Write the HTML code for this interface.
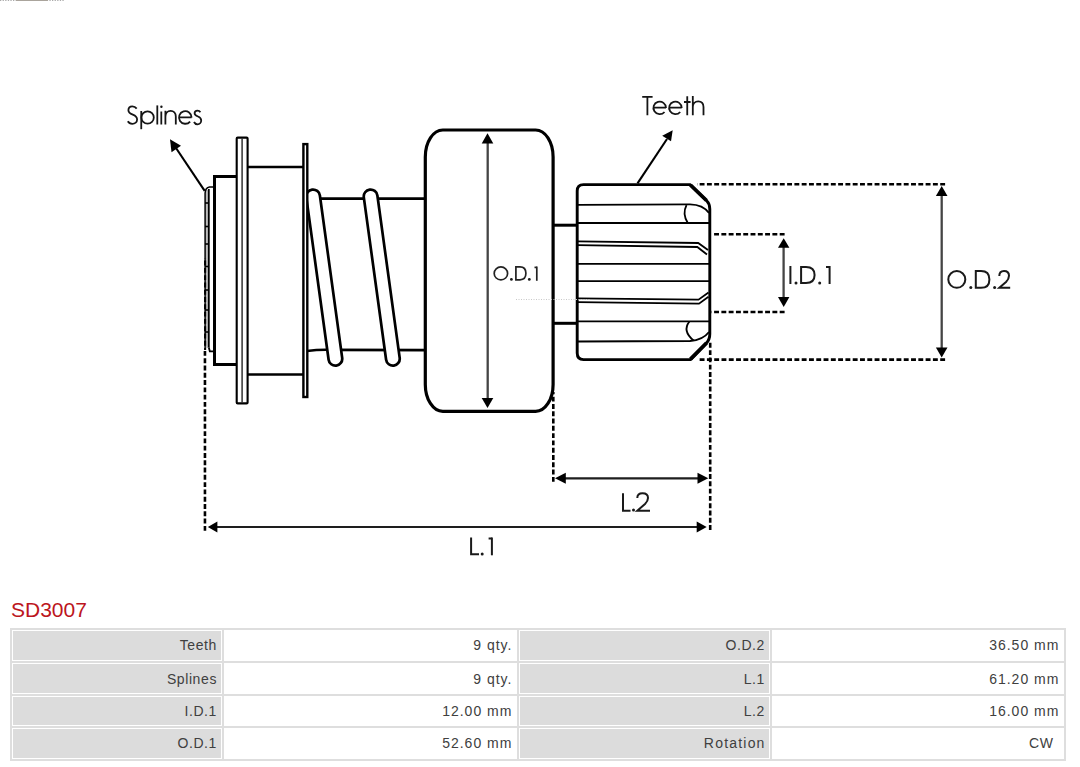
<!DOCTYPE html>
<html>
<head>
<meta charset="utf-8">
<style>
html,body{margin:0;padding:0;background:#fff;}
body{width:1080px;height:767px;overflow:hidden;position:relative;font-family:"Liberation Sans",sans-serif;}
#drw{position:absolute;left:0;top:0;}
#title{position:absolute;left:11px;top:598px;font-size:21px;line-height:24px;color:#bc1520;white-space:nowrap;}
#tbl{position:absolute;left:10px;top:628px;width:1056px;height:133px;background:#dedede;}
.c{position:absolute;box-sizing:border-box;border:1px solid #fff;font-size:14px;letter-spacing:0.6px;color:#404040;text-align:right;white-space:nowrap;}
.h{background:#dcdcdc;}
.v{background:#fff;}
.c span{position:absolute;right:4px;}
.v span{letter-spacing:1px;right:3.6px;}
</style>
</head>
<body>
<svg id="drw" width="1080" height="600" viewBox="0 0 1080 600">
  <!-- top-left faint -->
  <line x1="0" y1="0.5" x2="64" y2="0.5" stroke="#aaa" stroke-width="1" stroke-dasharray="1.3 1.3"/>
  <line x1="16" y1="0.5" x2="48" y2="0.5" stroke="#aaa49c" stroke-width="1"/>

  <g fill="none" stroke="#000" stroke-linecap="butt">
    <!-- rim -->
    <rect x="205.6" y="190" width="2.6" height="158" fill="#bdbdbd" stroke="none"/>
    <path d="M205.1 348 L205.1 193 Q205.4 187.6 209.5 187 L214 187" stroke-width="1.5"/>
    <line x1="208.8" y1="189" x2="208.8" y2="347.5" stroke-width="1.8"/>
    <path d="M208.8 347.5 L209.8 351.3 L214 351.3" stroke-width="1.8"/>
    <g stroke-width="1.6">
      <line x1="205" y1="203" x2="209" y2="203"/>
      <line x1="205" y1="226.5" x2="209" y2="226.5"/>
      <line x1="205" y1="244" x2="209" y2="244"/>
      <line x1="205" y1="266.5" x2="209" y2="266.5"/>
      <line x1="205" y1="290" x2="209" y2="290"/>
      <line x1="205" y1="310" x2="209" y2="310"/>
      <line x1="205" y1="332" x2="209" y2="332"/>
    </g>
    <!-- collar -->
    <path d="M237 176.5 L214.5 176.5 L214.5 364.5 L237 364.5" stroke-width="3"/>
    <!-- cylinder lines -->
    <line x1="247" y1="167" x2="304" y2="167" stroke-width="2.7"/>
    <line x1="247" y1="374.5" x2="304" y2="374.5" stroke-width="2.7"/>
    <!-- flange -->
    <rect x="236.7" y="137.6" width="10.9" height="265.8" rx="1" fill="#fff" stroke-width="2.1"/>
    <line x1="242.1" y1="138" x2="242.1" y2="403" stroke="#333" stroke-width="1.5"/>

    <!-- spring lines -->
    <line x1="307" y1="198.6" x2="426" y2="198.6" stroke-width="2.7"/>
    <path d="M307 351 Q318 349.5 330 349.8 L426 350.2" stroke-width="2.7"/>
    <!-- coils -->
    <line x1="313.1" y1="196.4" x2="335.4" y2="358.8" stroke-width="16.4" stroke-linecap="round"/>
    <line x1="313.1" y1="196.4" x2="335.4" y2="358.8" stroke="#fff" stroke-width="11" stroke-linecap="round"/>
    <line x1="370.6" y1="196.4" x2="392.9" y2="358.8" stroke-width="16.4" stroke-linecap="round"/>
    <line x1="370.6" y1="196.4" x2="392.9" y2="358.8" stroke="#fff" stroke-width="11" stroke-linecap="round"/>
    <!-- plate 2 -->
    <rect x="303.4" y="144.1" width="3.9" height="252.9" fill="#fff" stroke-width="2.4"/>

    <!-- shaft -->
    <line x1="552" y1="225.2" x2="578" y2="225.2" stroke-width="3"/>
    <line x1="552" y1="323.3" x2="578" y2="323.3" stroke-width="3"/>

    <!-- big rounded rect -->
    <rect x="425.3" y="130" width="127.8" height="281.4" rx="17.5" ry="27" fill="#fff" stroke-width="3.2"/>

    <!-- pinion -->
    <path d="M577.2 191 Q577.2 184.6 583.5 184.6 L690 184.6 L706.5 200.5 Q709.8 203.8 709.8 209 L709.8 334 Q709.8 339.5 706.5 343 L690.5 359.6 L583.5 359.6 Q577.2 359.6 577.2 353 Z" fill="#fff" stroke-width="2.9"/>
    <line x1="690.5" y1="185" x2="706.5" y2="200.5" stroke-width="3.8"/>
    <line x1="690.5" y1="359.2" x2="706.5" y2="343" stroke-width="3.8"/>
    <g stroke-width="1.8">
      <path d="M578 204.8 L690 204.3 Q703 204.5 709 213"/>
      <path d="M686.5 205.2 Q682 214 687.8 223"/>
      <line x1="578" y1="223" x2="709" y2="223"/>
      <path d="M578 241.4 L698.2 243 L708 250"/>
      <path d="M578 245.2 L697.3 247 L707 254.5"/>
      <line x1="578" y1="263.9" x2="709" y2="263.9"/>
      <line x1="578" y1="281.1" x2="709" y2="281.1"/>
      <path d="M578 298.3 L698.5 299.7 L708.5 292.6"/>
      <path d="M578 302.2 L699 303.7 L708.5 296.8"/>
      <line x1="578" y1="321.3" x2="709" y2="321.3"/>
      <path d="M689.4 321.5 Q682 331 693.6 340.5"/>
      <path d="M578 341.5 L690 341 Q703 340 709 332"/>
    </g>
  </g>

  <!-- dashed extension lines -->
  <g stroke="#000" stroke-width="2.6" stroke-dasharray="4.9 2.39" fill="none">
    <line x1="205.1" y1="350" x2="205.1" y2="258" stroke-width="2.1" stroke-dashoffset="3"/>
    <line x1="204.95" y1="530.8" x2="204.95" y2="350"/>
    <line x1="553.3" y1="481.8" x2="553.3" y2="392"/>
    <line x1="710.2" y1="530" x2="710.2" y2="342"/>
    <line x1="945.1" y1="184.2" x2="697" y2="184.2"/>
    <line x1="945.1" y1="359.6" x2="698" y2="359.6"/>
    <line x1="784.6" y1="234.2" x2="714" y2="234.2"/>
    <line x1="784.6" y1="312" x2="711.3" y2="312"/>
  </g>
  <!-- faint dotted line -->
  <line x1="516" y1="299.5" x2="590" y2="299.5" stroke="#c8c8c8" stroke-width="1" stroke-dasharray="1 1.5"/>

  <!-- dimension arrows -->
  <g stroke="#454545" stroke-width="2.3">
    <line x1="487.7" y1="142" x2="487.7" y2="399"/>
    <line x1="941.7" y1="195" x2="941.7" y2="350"/>
    <line x1="783.6" y1="247" x2="783.6" y2="298"/>
  </g>
  <g stroke="#1e1e1e" stroke-width="2.2">
    <line x1="216" y1="527" x2="698" y2="527"/>
    <line x1="565" y1="478.3" x2="698" y2="478.3"/>
    <line x1="204.7" y1="190.8" x2="175" y2="146.5" stroke="#000" stroke-width="2.1"/>
    <line x1="637.5" y1="183.4" x2="667" y2="139" stroke="#000" stroke-width="2.1"/>
  </g>
  <g fill="#000">
    <polygon points="487.5,133.3 481.7,143.5 493.3,143.5"/>
    <polygon points="487.5,408.1 481.7,397.9 493.3,397.9"/>
    <polygon points="941.7,186.1 935.9,196.1 947.5,196.1"/>
    <polygon points="941.7,357.6 935.9,347.6 947.5,347.6"/>
    <polygon points="783.7,238.3 778,247.7 789.4,247.7"/>
    <polygon points="783.7,307 778,297 789.4,297"/>
    <polygon points="207.8,527 217.4,521.5 217.4,532.5"/>
    <polygon points="706.7,527 696.7,521.5 696.7,532.5"/>
    <polygon points="555,478.3 565.8,472.8 565.8,483.8"/>
    <polygon points="708.3,478.3 697.5,472.8 697.5,483.8"/>
    <polygon points="170,139.3 171.5,152.2 181,145.8"/>
    <polygon points="672.7,130.2 662.2,135.7 671,141.2"/>
  </g>

  <!-- labels -->
  <g fill="none" stroke="#151515" stroke-width="1.8">
    <!-- Splines -->
    <path d="M136.7 108.6 C135.6 107.1 134.1 106.4 132.3 106.4 C130 106.4 128.4 108 128.4 110.2 C128.4 112.8 130.8 113.8 132.8 114.6 C135.2 115.6 137.1 116.8 137.1 119.5 C137.1 122 135 123.8 132.3 123.8 C130.3 123.8 128.7 122.8 127.8 121.2"/>
    <path d="M141.25 111 L141.25 129.2"/>
    <circle cx="147.6" cy="117.5" r="6.2"/>
    <path d="M157.3 105.4 L157.3 124.5"/>
    <path d="M161.3 111.5 L161.3 124.5"/>
    <path d="M165.4 110.8 L165.4 124.5 M165.4 117 C165.4 113 167.8 110.8 170.6 110.8 C173.6 110.8 175.8 113 175.8 116.5 L175.8 124.5"/>
    <path d="M178.9 117.3 L191.6 117.3 M191.6 117.5 A6.3 6.3 0 1 0 190.1 121.55"/>
    <path d="M200.4 112.3 C199.7 111.2 198.7 110.7 197.5 110.7 C195.8 110.7 194.6 111.8 194.6 113.3 C194.6 115.2 196.4 115.9 198 116.5 C199.8 117.2 201.2 118.2 201.2 120.4 C201.2 122.5 199.6 124.3 197.5 124.3 C195.9 124.3 194.7 123.4 194 122"/>
    <!-- Teeth -->
    <path d="M642.2 96.8 L652.6 96.8 M647.4 96.8 L647.4 115.2"/>
    <path d="M653.4 107.7 L666 107.7 M666 107.9 A6.3 6.3 0 1 0 664.5 112"/>
    <path d="M669.1 107.7 L681.7 107.7 M681.7 107.9 A6.3 6.3 0 1 0 680.2 112"/>
    <path d="M687.25 96.2 L687.25 115.2 M684 102 L690.6 102"/>
    <path d="M692.8 96 L692.8 115.2 M692.8 107 C692.8 103.5 695.2 101.3 698.2 101.3 C701.3 101.3 703.5 103.5 703.5 107 L703.5 115.2"/>
  </g>
  <circle cx="161.4" cy="106.7" r="1.2" fill="#151515"/>
  <g fill="none" stroke="#1a1a1a" stroke-width="2">
    <!-- O.D.1 -->
    <g stroke-width="1.7" stroke="#222">
    <ellipse cx="500.9" cy="273.4" rx="6.7" ry="6.5"/>
    <path d="M515.9 266.9 L515.9 279.8 L520 279.8 Q525.9 279.8 525.9 273.35 Q525.9 266.9 520 266.9 Z"/>
    <line x1="536.8" y1="266.5" x2="536.8" y2="280.8"/>
    <path d="M534.5 267.4 L536.8 267.4" />
    </g>
    <!-- O.D.2 -->
    <ellipse cx="956.8" cy="279.4" rx="8.5" ry="8.4"/>
    <path d="M975.8 271 L975.8 287.8 L981 287.8 Q989.4 287.8 989.4 279.4 Q989.4 271 981 271 Z"/>
    <path d="M999.3 276 Q999.3 270.9 1004 270.9 Q1009 270.9 1009 275.8 Q1009 279 1006 282 L999.3 287.8 L1010.2 287.8"/>
    <!-- I.D.1 -->
    <line x1="790.4" y1="266" x2="790.4" y2="284"/>
    <path d="M801.1 267 L801.1 283 L806 283 Q814.6 283 814.6 275 Q814.6 267 806 267 Z"/>
    <line x1="829.6" y1="266" x2="829.6" y2="284"/>
    <path d="M826 267 L829.6 267"/>
    <!-- L.1 -->
    <path d="M471.1 537.5 L471.1 554.3 L479 554.3"/>
    <line x1="491.9" y1="537.5" x2="491.9" y2="555.3"/>
    <path d="M488.6 538.5 L491.9 538.5"/>
    <!-- L.2 -->
    <path d="M623 493.3 L623 510.7 L630.5 510.7"/>
    <path d="M637.3 498 Q637.3 493.3 642.5 493.3 Q648 493.3 648 498 Q648 501 645 504 L637.3 510.7 L650 510.7"/>
  </g>
  <g fill="#1a1a1a">
    <circle cx="511.4" cy="279.4" r="1.4"/>
    <circle cx="529.3" cy="279.4" r="1.4"/>
    <circle cx="970.8" cy="287.4" r="1.5"/>
    <circle cx="994.6" cy="287.4" r="1.5"/>
    <circle cx="796" cy="283" r="1.5"/>
    <circle cx="819.7" cy="283" r="1.5"/>
    <circle cx="482.2" cy="554" r="1.5"/>
    <circle cx="633.5" cy="510" r="1.5"/>
  </g>
</svg>

<div id="title">SD3007</div>
<div id="tbl">
  <!-- row1 -->
  <div class="c h" style="left:2px;top:2px;width:210px;height:31px;"><span style="top:6px">Teeth</span></div>
  <div class="c v" style="left:214px;top:2px;width:293px;height:31px;"><span style="top:6px">9 qty.</span></div>
  <div class="c h" style="left:509px;top:2px;width:251px;height:31px;"><span style="top:6px">O.D.2</span></div>
  <div class="c v" style="left:762px;top:2px;width:292px;height:31px;"><span style="top:6px">36.50 mm</span></div>
  <!-- row2 -->
  <div class="c h" style="left:2px;top:35px;width:210px;height:31px;"><span style="top:7px">Splines</span></div>
  <div class="c v" style="left:214px;top:35px;width:293px;height:31px;"><span style="top:7px">9 qty.</span></div>
  <div class="c h" style="left:509px;top:35px;width:251px;height:31px;"><span style="top:7px">L.1</span></div>
  <div class="c v" style="left:762px;top:35px;width:292px;height:31px;"><span style="top:7px">61.20 mm</span></div>
  <!-- row3 -->
  <div class="c h" style="left:2px;top:68px;width:210px;height:30px;"><span style="top:6px">I.D.1</span></div>
  <div class="c v" style="left:214px;top:68px;width:293px;height:30px;"><span style="top:6px">12.00 mm</span></div>
  <div class="c h" style="left:509px;top:68px;width:251px;height:30px;"><span style="top:6px">L.2</span></div>
  <div class="c v" style="left:762px;top:68px;width:292px;height:30px;"><span style="top:6px">16.00 mm</span></div>
  <!-- row4 -->
  <div class="c h" style="left:2px;top:100px;width:210px;height:31px;"><span style="top:6px">O.D.1</span></div>
  <div class="c v" style="left:214px;top:100px;width:293px;height:31px;"><span style="top:6px">52.60 mm</span></div>
  <div class="c h" style="left:509px;top:100px;width:251px;height:31px;"><span style="top:6px;letter-spacing:1.2px;right:3.4px">Rotation</span></div>
  <div class="c v" style="left:762px;top:100px;width:292px;height:31px;"><span style="top:6px;letter-spacing:0.6px;right:9.5px">CW</span></div>
</div>
</body>
</html>
